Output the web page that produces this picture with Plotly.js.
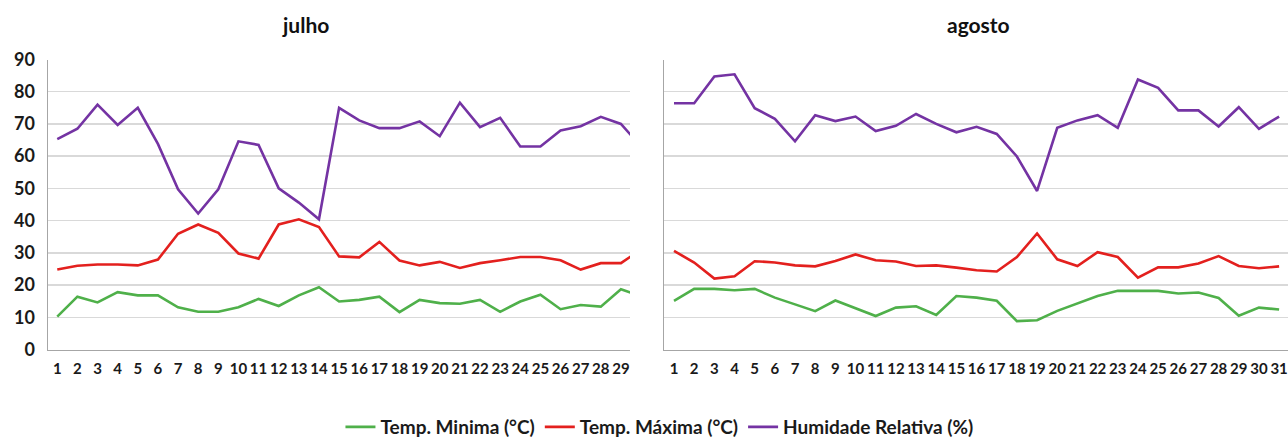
<!DOCTYPE html>
<html>
<head>
<meta charset="utf-8">
<script src="https://cdn.plot.ly/plotly-3.0.1.min.js"></script>
<style>
html,body{margin:0;padding:0;background:#fff;}
#chart{width:1288px;height:441px;}
</style>
</head>
<body>
<div id="chart"></div>
<script>
// ---- Data ----
const julyDays = [1,2,3,4,5,6,7,8,9,10,11,12,13,14,15,16,17,18,19,20,21,22,23,24,25,26,27,28,29,30];
const julyMin = [10.2,16.4,14.6,17.8,16.8,16.8,13.1,11.7,11.7,13.1,15.7,13.5,16.8,19.3,14.9,15.4,16.4,11.6,15.4,14.4,14.2,15.4,11.7,14.9,17.0,12.5,13.8,13.3,18.7,16.5];
const julyMax = [24.8,26.0,26.4,26.4,26.1,27.9,35.9,38.8,36.2,29.8,28.2,38.8,40.4,38.0,28.9,28.6,33.4,27.6,26.1,27.2,25.3,26.8,27.7,28.7,28.7,27.7,24.8,26.8,26.8,31.0];
const julyHum = [65.3,68.5,76.0,69.7,75.0,63.8,49.7,42.2,49.7,64.6,63.5,50.0,45.6,40.4,75.0,71.1,68.7,68.7,70.8,66.2,76.6,69.0,71.9,63.0,63.0,68.0,69.3,72.2,70.0,63.0];
const julyTickVals = [1,2,3,4,5,6,7,8,9,10,11,12,13,14,15,16,17,18,19,20,21,22,23,24,25,26,27,28,29];

const augDays = [1,2,3,4,5,6,7,8,9,10,11,12,13,14,15,16,17,18,19,20,21,22,23,24,25,26,27,28,29,30,31];
const augMin = [15.1,18.8,18.8,18.4,18.8,16.1,14.0,11.9,15.2,12.8,10.4,13.0,13.4,10.7,16.6,16.1,15.1,8.8,9.1,12.0,14.3,16.6,18.2,18.2,18.2,17.4,17.7,16.0,10.5,13.0,12.4];
const augMax = [30.6,27.0,22.0,22.7,27.4,27.0,26.1,25.8,27.5,29.5,27.7,27.3,25.9,26.1,25.4,24.6,24.2,28.7,36.0,28.0,25.9,30.2,28.7,22.3,25.5,25.5,26.7,29.0,25.9,25.2,25.8];
const augHum = [76.4,76.4,84.7,85.4,74.9,71.6,64.6,72.7,70.9,72.3,67.8,69.4,73.1,70.0,67.4,69.1,66.9,59.9,49.2,68.8,71.1,72.7,68.8,83.8,81.2,74.2,74.2,69.2,75.2,68.5,72.3];

const yTicks = [0,10,20,30,40,50,60,70,80,90];
const seriesNames = ['Temp. Minima (°C)','Temp. Máxima (°C)','Humidade Relativa (%)'];
const seriesColors = ['#4fb04a','#e3201e','#7433a3'];
const monthTitles = ['julho','agosto'];

// ---- Chart ----
const W = 1288, H = 441;
const lw = 2.6;
const FAM = 'Lato, "Open Sans", sans-serif';
function tr(x, y, i, xa, show){
  return {x:x, y:y, type:'scatter', mode:'lines', name:seriesNames[i],
    line:{color:seriesColors[i], width:lw}, xaxis:xa, yaxis:xa==='x'?'y':'y2',
    showlegend:show, hoverinfo:'skip'};
}
const data = [
  tr(julyDays, julyMin, 0, 'x', true),
  tr(julyDays, julyMax, 1, 'x', true),
  tr(julyDays, julyHum, 2, 'x', true),
  tr(augDays, augMin, 0, 'x2', false),
  tr(augDays, augMax, 1, 'x2', false),
  tr(augDays, augHum, 2, 'x2', false)
];

const tickFont = {family:FAM, size:15, color:'#1a1a1a', weight:'bold'};
const yDom = [1-349.5/H, 1-59.5/H];
function xax(domPx, range, vals){
  return {domain:[domPx[0]/W, domPx[1]/W], range:range, tickvals:vals, ticktext:vals.map(String),
    showgrid:false, zeroline:false, showline:true, linecolor:'#a6a6a6', linewidth:1.5,
    ticks:'', tickfont:tickFont, ticklabelstandoff:5, fixedrange:true, automargin:false};
}
function yax(showLabels, anchor){
  return {domain:yDom, range:[0,90], tickvals:yTicks, showticklabels:showLabels,
    showgrid:true, gridcolor:'#d9d9d9', gridwidth:1.5, zeroline:false,
    showline:true, linecolor:'#a6a6a6', linewidth:1.5, ticks:'', anchor:anchor,
    tickfont:{family:FAM, size:18, color:'#1a1a1a', weight:'bold'},
    ticklabelstandoff:8, fixedrange:true, automargin:false};
}
const layout = {
  width:W, height:H, margin:{l:0,r:0,t:0,b:0, autoexpand:false},
  paper_bgcolor:'#fff', plot_bgcolor:'#fff',
  xaxis: xax([48,630], [0.54,29.45], julyTickVals),
  yaxis: yax(true,'x'),
  xaxis2: Object.assign(xax([664,1288], [0.504,31.44], augDays), {anchor:'y2'}),
  yaxis2: yax(false,'x2'),
  showlegend:true,
  legend:{orientation:'h', x:0.512, xanchor:'center', y:14/H, yanchor:'middle',
    font:{family:FAM, size:19, color:'#1a1a1a', weight:'bold'},
    itemwidth:30, tracegroupgap:0, bgcolor:'rgba(0,0,0,0)'},
  annotations:[
    {text:monthTitles[0], xref:'paper', yref:'paper', x:305/W, y:1-25/H, showarrow:false,
     xanchor:'center', yanchor:'middle', font:{family:FAM, size:21, color:'#111', weight:'bold'}},
    {text:monthTitles[1], xref:'paper', yref:'paper', x:978/W, y:1-25/H, showarrow:false,
     xanchor:'center', yanchor:'middle', font:{family:FAM, size:21, color:'#111', weight:'bold'}}
  ]
};
Plotly.newPlot('chart', data, layout, {displayModeBar:false, staticPlot:true});
</script>
</body>
</html>
